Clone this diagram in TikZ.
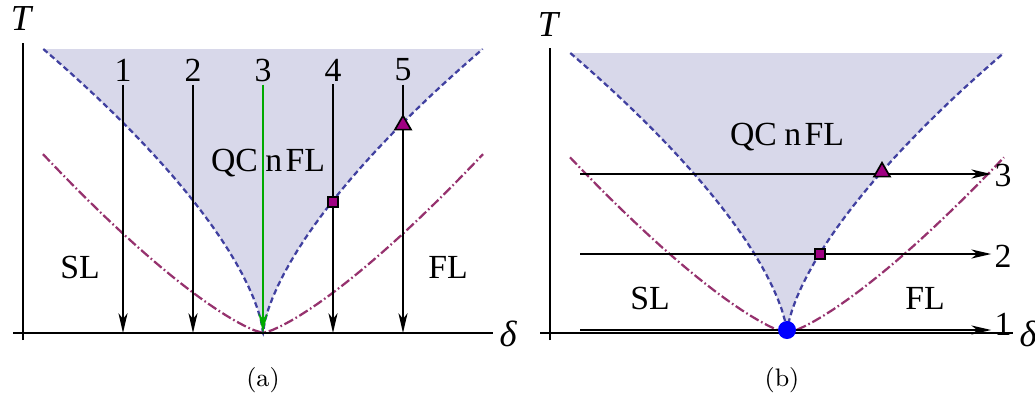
\documentclass[tikz,border=0pt]{standalone}
\usepackage{fontspec}
\newfontfamily\plotfont{Liberation Serif}
\usetikzlibrary{arrows.meta,shapes.geometric}
\definecolor{qcfill}{RGB}{216,216,234}
\definecolor{qcblue}{RGB}{64,64,160}
\definecolor{flpurple}{RGB}{150,50,110}
\definecolor{markpurple}{RGB}{160,0,130}
\definecolor{pathgreen}{RGB}{0,170,0}
\begin{document}
\begin{tikzpicture}[x=0.0125cm, y=-0.0125cm, every node/.style={font=\plotfont\fontsize{12}{14}\selectfont},
  axisline/.style={line width=0.6pt},
  axlabel/.style={font=\plotfont\itshape\fontsize{13}{15}\selectfont},
  traj/.style={line width=0.8pt,-{Stealth[length=7pt,width=3.2pt,inset=2pt]}},
  qcline/.style={qcblue,line width=0.8pt,dash pattern=on 2pt off 1.2pt},
  flline/.style={flpurple,line width=0.8pt,dash pattern=on 3.5pt off 1pt on 0.6pt off 1pt},
  num/.style={inner sep=1pt},
  sqmark/.style={draw,fill=markpurple,rectangle,minimum size=3.6pt,inner sep=0pt,line width=0.6pt},
  trimark/.style={draw,fill=markpurple,regular polygon,regular polygon sides=3,minimum size=6.6pt,inner sep=0pt,line width=0.6pt},
  caption/.style={font=\small}]
  \useasboundingbox (0,0) rectangle (1035,399);
  % ---------- panel (a) ----------
  % QC nFL region
  \fill[qcfill] plot[domain=284:0.01] ({263-(\x/7.8)^1.5},{333-\x}) -- plot[domain=0.01:284] ({263+(\x/7.8)^1.5},{333-\x}) -- cycle;
  \draw[qcline] plot[domain=284:0.01] ({263-(\x/7.8)^1.5},{333-\x}) -- plot[domain=0.01:284] ({263+(\x/7.8)^1.5},{333-\x});
  % crossover lines
  \draw[flline] plot[domain=220:0.01] ({263-\x},{333-0.1612*\x^1.3}) -- plot[domain=0.01:220] ({263+\x},{333-0.1612*\x^1.3});
  % axes
  \draw[axisline] (13,333) -- (493,333);
  \draw[axisline] (23,340) -- (23,43);
  \node[axlabel] (Ta) at (21,19) {T};
  \node[axlabel] (da) at (508,334) {δ};
  % field paths
  \foreach \i/\x in {1/123,2/193,4/333,5/403}{
    \node[num] (a\i) at (\x,70) {\i};
    \coordinate (a\i end) at (\x,333);
    \draw[traj] (a\i) -- (a\i end);
  }
  \node[num] (a3) at (263,70) {3};
  \coordinate (a3end) at (263,333);
  \draw[traj,pathgreen] (a3) -- (a3end);
  \node[sqmark] (sqa) at (333,202) {};
  \node[trimark] (tria) at (403,125) {};
  % regions
  \node (qca) at (268,163) {QC\hspace{0.22em}n\hspace{0.1em}FL};
  \node (sla) at (80,267) {SL};
  \node (fla) at (448,267) {FL};
  \node[caption] (capa) at (263,380) {(a)};
  % ---------- panel (b) ----------
  \fill[qcfill] plot[domain=280:0.01] ({787-(\x/7.76)^1.5},{333-\x}) -- plot[domain=0.01:280] ({787+(\x/7.76)^1.5},{333-\x}) -- cycle;
  \draw[qcline] plot[domain=280:0.01] ({787-(\x/7.76)^1.5},{333-\x}) -- plot[domain=0.01:280] ({787+(\x/7.76)^1.5},{333-\x});
  \draw[flline] plot[domain=217:0.01] ({787-\x},{333-0.1612*\x^1.3}) -- plot[domain=0.01:217] ({787+\x},{333-0.1612*\x^1.3});
  % axes
  \draw[axisline] (540,333) -- (1013,333);
  \draw[axisline] (550,340) -- (550,48);
  \node[axlabel] (Tb) at (548,25) {T};
  \node[axlabel] (db) at (1028,334) {δ};
  % temperature paths
  \foreach \i/\y/\ly in {1/330/324,2/254/256,3/174/175}{
    \coordinate (b\i start) at (580,\y);
    \node[num] (b\i) at (1003,\ly) {\i};
    \draw[traj] (b\i start) -- (b\i start -| b\i.west);
  }
  \node[sqmark] (sqb) at (820,254) {};
  \node[trimark] (trib) at (882,172) {};
  \node[circle,fill=blue,minimum size=6.4pt,inner sep=0pt] (qcp) at (787,330) {};
  % regions
  \node (qcb) at (787,137) {QC\hspace{0.22em}n\hspace{0.1em}FL};
  \node (slb) at (650,298) {SL};
  \node (flb) at (925,298) {FL};
  \node[caption] (capb) at (782,380) {(b)};
\end{tikzpicture}
\end{document}
